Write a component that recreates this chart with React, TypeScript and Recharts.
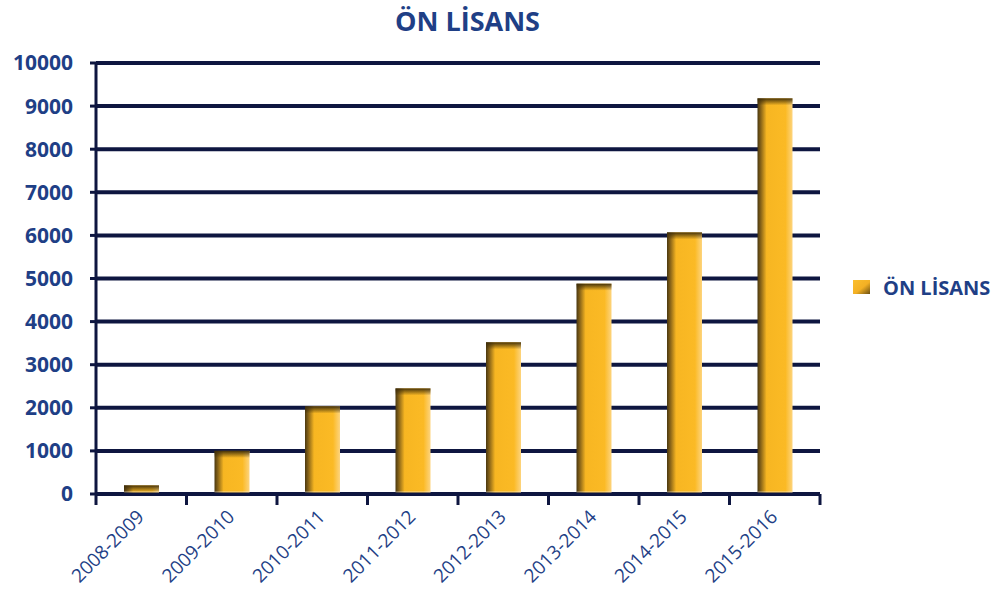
import React from 'react';
import { BarChart, Bar, XAxis, YAxis, CartesianGrid, Legend } from 'recharts';

const categories = ['2008-2009', '2009-2010', '2010-2011', '2011-2012', '2012-2013', '2013-2014', '2014-2015', '2015-2016'];
const values = [200, 1000, 2030, 2450, 3520, 4880, 6070, 9180];
const yTicks = [0, 1000, 2000, 3000, 4000, 5000, 6000, 7000, 8000, 9000, 10000];
const seriesName = 'ÖN LİSANS';
const title = 'ÖN LİSANS';

const data = categories.map((c, i) => ({ name: c, value: values[i] }));

const W = 993;
const H = 591;
const MARGIN = { top: 63, right: 173, bottom: 0, left: 0 };
const Y_AXIS_W = 96;
const PLOT_W = W - MARGIN.right - MARGIN.left - Y_AXIS_W;
const NAVY = '#0e1640';
const TEXT = '#1f3f86';
const FONT = '"Open Sans", sans-serif';

function BarShape(props: any) {
  const { x, y, width, height } = props;
  if (!height || height <= 0) return null;
  const topH = Math.min(7, height);
  return (
    <g>
      <rect x={x} y={y} width={width} height={height} fill="url(#barGrad)" />
      <rect x={x} y={y} width={width} height={topH} fill="url(#topGrad)" />
      <rect x={x} y={y + height - Math.min(3, height)} width={width} height={Math.min(3, height)} fill="#ffffff" opacity={0.25} />
    </g>
  );
}

function XTick(props: any) {
  const { x, y, payload, index } = props;
  const bw = PLOT_W / categories.length;
  const tx = x + 4;
  const ty = y + 24;
  return (
    <g>
      <line x1={x - bw / 2} x2={x - bw / 2} y1={y} y2={y + 11} stroke={NAVY} strokeWidth={3} />
      {index === categories.length - 1 && (
        <line x1={x + bw / 2} x2={x + bw / 2} y1={y} y2={y + 11} stroke={NAVY} strokeWidth={3} />
      )}
      <text
        x={tx}
        y={ty}
        transform={`rotate(-45, ${tx}, ${ty})`}
        textAnchor="end"
        fill={TEXT}
        fontSize={19}
        fontFamily={FONT}
      >
        {payload.value}
      </text>
    </g>
  );
}

function LegendContent() {
  return (
    <div style={{ display: 'flex', alignItems: 'center', fontFamily: FONT, height: 28 }}>
      <svg width={17} height={14} style={{ marginRight: 13 }}>
        <defs>
          <linearGradient id="legGrad" x1="0" y1="0" x2="1" y2="1">
            <stop offset="0%" stopColor="#fbbf2e" />
            <stop offset="55%" stopColor="#f3b024" />
            <stop offset="100%" stopColor="#6b4f12" />
          </linearGradient>
        </defs>
        <rect x={0} y={0} width={17} height={14} fill="url(#legGrad)" />
      </svg>
      <span style={{ color: TEXT, fontSize: 20, fontWeight: 700, whiteSpace: 'nowrap' }}>{seriesName}</span>
    </div>
  );
}

export default function App() {
  return (
    <div style={{ position: 'absolute', left: 0, top: 0, width: W, height: H, background: '#fff' }}>
      <div
        style={{
          position: 'absolute',
          left: 0,
          top: 2,
          width: 935,
          textAlign: 'center',
          fontFamily: FONT,
          fontWeight: 700,
          fontSize: 27,
          color: TEXT,
          zIndex: 2,
        }}
      >
        {title}
      </div>
      <BarChart width={W} height={H} data={data} margin={MARGIN}>
        <defs>
          <linearGradient id="barGrad" x1="0" y1="0" x2="1" y2="0">
            <stop offset="0%" stopColor="#4a3810" />
            <stop offset="10%" stopColor="#8a6518" />
            <stop offset="26%" stopColor="#f7b622" />
            <stop offset="80%" stopColor="#fbba25" />
            <stop offset="100%" stopColor="#fdd47e" />
          </linearGradient>
          <linearGradient id="topGrad" x1="0" y1="0" x2="0" y2="1">
            <stop offset="0%" stopColor="#3d2c08" stopOpacity={0.95} />
            <stop offset="100%" stopColor="#3d2c08" stopOpacity={0} />
          </linearGradient>
        </defs>
        <CartesianGrid vertical={false} stroke={NAVY} strokeWidth={4} />
        <XAxis
          dataKey="name"
          height={97}
          interval={0}
          tickSize={0}
          tickMargin={0}
          tickLine={false}
          axisLine={{ stroke: NAVY, strokeWidth: 3 }}
          tick={<XTick />}
        />
        <YAxis
          width={Y_AXIS_W}
          domain={[0, 10000]}
          ticks={yTicks}
          interval={0}
          tickSize={6}
          tickMargin={17}
          axisLine={{ stroke: NAVY, strokeWidth: 3 }}
          tickLine={{ stroke: NAVY, strokeWidth: 3 }}
          tick={{ fill: TEXT, fontSize: 21, fontWeight: 700, fontFamily: FONT }}
        />
        <Legend
          content={<LegendContent />}
          wrapperStyle={{ position: 'absolute', left: 853, top: 273, width: 140, height: 0, overflow: 'visible' }}
        />
        <Bar dataKey="value" name={seriesName} barSize={35} shape={<BarShape />} isAnimationActive={false} />
      </BarChart>
    </div>
  );
}
